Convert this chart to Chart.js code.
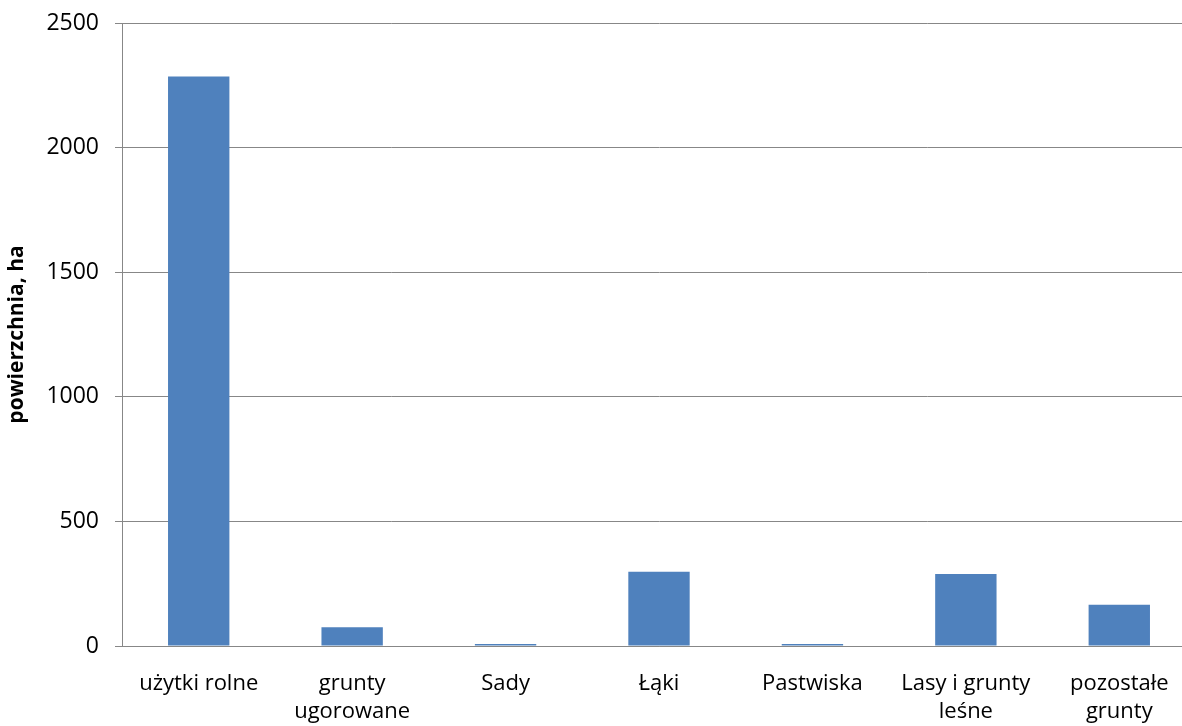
<!DOCTYPE html>
<html lang="pl">
<head>
<meta charset="utf-8">
<title>Struktura użytkowania gruntów</title>
<script src="https://cdn.jsdelivr.net/npm/chart.js@4/dist/chart.umd.min.js"></script>
<style>
  html, body { margin: 0; padding: 0; background: #fff; overflow: hidden; }
  #wrap { width: 1196px; height: 726px; position: relative; }
  canvas { display: block; }
</style>
</head>
<body>
<div id="wrap"><canvas id="chart" width="1196" height="726"></canvas></div>
<script>
// Land-use categories (multi-line labels where the name wraps)
const categories = [
  'użytki rolne',
  ['grunty', 'ugorowane'],
  'Sady',
  'Łąki',
  'Pastwiska',
  ['Lasy i grunty', 'leśne'],
  ['pozostałe', 'grunty']
];

// Area in hectares
const areaHa = [2285, 75, 8, 298, 8, 289, 166];

// Value axis ticks
const yTicks = [0, 500, 1000, 1500, 2000, 2500];

const axisTitle = 'powierzchnia, ha';

const FONT = '"Open Sans", "DejaVu Sans", sans-serif';
const GRID = '#878787';

new Chart(document.getElementById('chart'), {
  type: 'bar',
  data: {
    labels: categories,
    datasets: [{
      data: areaHa,
      backgroundColor: '#4F81BD',
      borderWidth: 0,
      barPercentage: 0.4,
      categoryPercentage: 1.0
    }]
  },
  options: {
    responsive: false,
    animation: false,
    layout: { padding: { top: 23, right: 0, bottom: 0, left: 0 } },
    plugins: {
      legend: { display: false },
      tooltip: { enabled: false }
    },
    scales: {
      x: {
        grid: { display: false, drawTicks: false },
        border: { color: GRID, width: 1 },
        ticks: {
          color: '#000',
          font: { family: FONT, size: 22, lineHeight: 1.25 },
          padding: 24,
          maxRotation: 0,
          autoSkip: false
        },
        afterFit(scale) {
          scale.height = 80;
          scale.paddingLeft = 0;
          scale.paddingRight = 0;
        }
      },
      y: {
        min: 0,
        max: 2500,
        afterBuildTicks(scale) { scale.ticks = yTicks.map(v => ({ value: v })); },
        grid: { color: GRID, lineWidth: 1, tickLength: 7, tickColor: GRID },
        border: { color: GRID, width: 1 },
        ticks: {
          color: '#000',
          font: { family: FONT, size: 23 },
          padding: 16,
          callback: v => String(v)
        },
        title: {
          display: true,
          text: axisTitle,
          color: '#000',
          font: { family: FONT, size: 21, weight: 'bold' },
          padding: { top: 4, bottom: 4 }
        },
        afterFit(scale) {
          scale.width = 122;
          scale.paddingTop = 0;
          scale.paddingBottom = 0;
        }
      }
    }
  }
});
</script>
</body>
</html>
